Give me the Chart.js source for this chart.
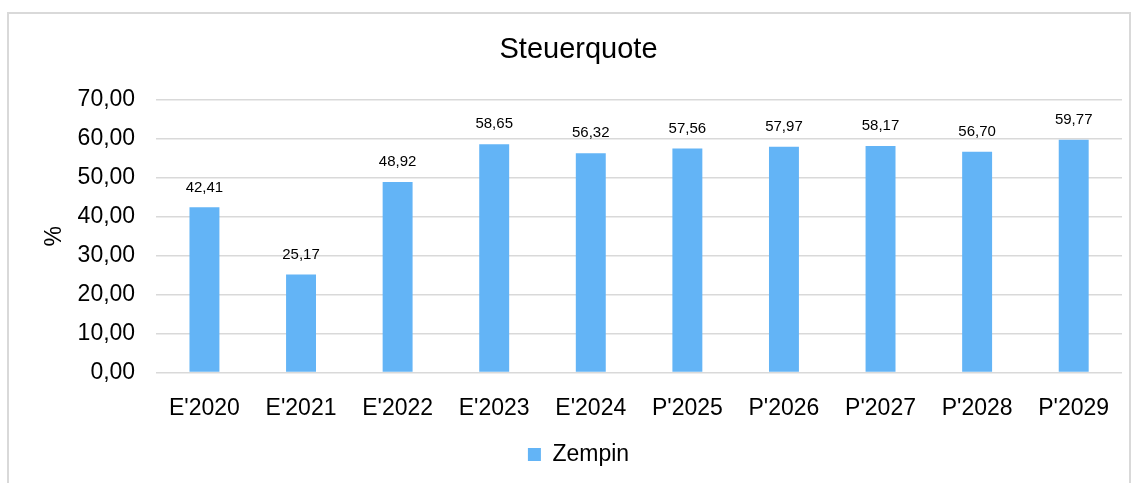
<!DOCTYPE html>
<html>
<head>
<meta charset="utf-8">
<script src="https://cdn.jsdelivr.net/npm/chart.js@4/dist/chart.umd.min.js"></script>
<style>
  html, body { margin: 0; padding: 0; background: #fff; }
  #wrap { position: relative; width: 1141px; height: 483px; overflow: hidden; }
  #frame { position: absolute; left: 7px; top: 12px; width: 1124px; height: 500px; border: 2px solid #d9d9d9; box-sizing: border-box; }
  canvas { position: absolute; left: 0; top: 0; }
</style>
</head>
<body>
<div id="wrap">
  <div id="frame"></div>
  <canvas id="chart" width="1141" height="483"></canvas>
</div>
<script>
// Werte
const jahre = ["E'2020", "E'2021", "E'2022", "E'2023", "E'2024", "P'2025", "P'2026", "P'2027", "P'2028", "P'2029"];
const zempin = [42.41, 25.17, 48.92, 58.65, 56.32, 57.56, 57.97, 58.17, 56.70, 59.77];
const yTicks = [0, 10, 20, 30, 40, 50, 60, 70];

const fmt = v => v.toFixed(2).replace('.', ',');

// Datenbeschriftung über den Balken
const valueLabels = {
  id: 'valueLabels',
  afterDatasetsDraw(chart) {
    const ctx = chart.ctx;
    const meta = chart.getDatasetMeta(0);
    ctx.save();
    ctx.font = '15px "Liberation Sans", Arial, sans-serif';
    ctx.fillStyle = '#000';
    ctx.textAlign = 'center';
    ctx.textBaseline = 'middle';
    meta.data.forEach((bar, i) => {
      ctx.fillText(fmt(zempin[i]), bar.x, bar.y - 20);
    });
    ctx.restore();
  }
};

Chart.defaults.font.family = '"Liberation Sans", Arial, sans-serif';
Chart.defaults.color = '#000';

new Chart(document.getElementById('chart'), {
  type: 'bar',
  data: {
    labels: jahre,
    datasets: [{
      label: 'Zempin',
      data: zempin,
      backgroundColor: '#63b4f6',
      barPercentage: 0.62,
      categoryPercentage: 0.5
    }]
  },
  options: {
    responsive: false,
    animation: false,
    layout: { padding: { left: 35, right: 19, top: 10, bottom: 7 } },
    plugins: {
      title: {
        display: true,
        text: 'Steuerquote',
        font: { size: 29, weight: 'normal' },
        color: '#000',
        padding: { top: 22.6, bottom: 32.6 }
      },
      legend: {
        position: 'bottom',
        labels: { boxWidth: 13, boxHeight: 13, font: { size: 23 }, padding: 6 }
      },
      tooltip: { enabled: false }
    },
    scales: {
      x: {
        grid: { display: false },
        border: { display: false },
        ticks: { font: { size: 23 }, padding: 14.5, maxRotation: 0 }
      },
      y: {
        min: 0,
        max: 70,
        afterBuildTicks: axis => { axis.ticks = yTicks.map(v => ({ value: v })); },
        grid: { color: '#d9d9d9', lineWidth: 1.5, drawTicks: true, tickLength: 15, tickColor: 'rgba(0,0,0,0)' },
        border: { display: false },
        ticks: { font: { size: 23 }, padding: 6, callback: v => fmt(v) },
        title: { display: true, text: '%', font: { size: 23 }, padding: { top: 6, bottom: 3 } }
      }
    }
  },
  plugins: [valueLabels]
});
</script>
</body>
</html>
